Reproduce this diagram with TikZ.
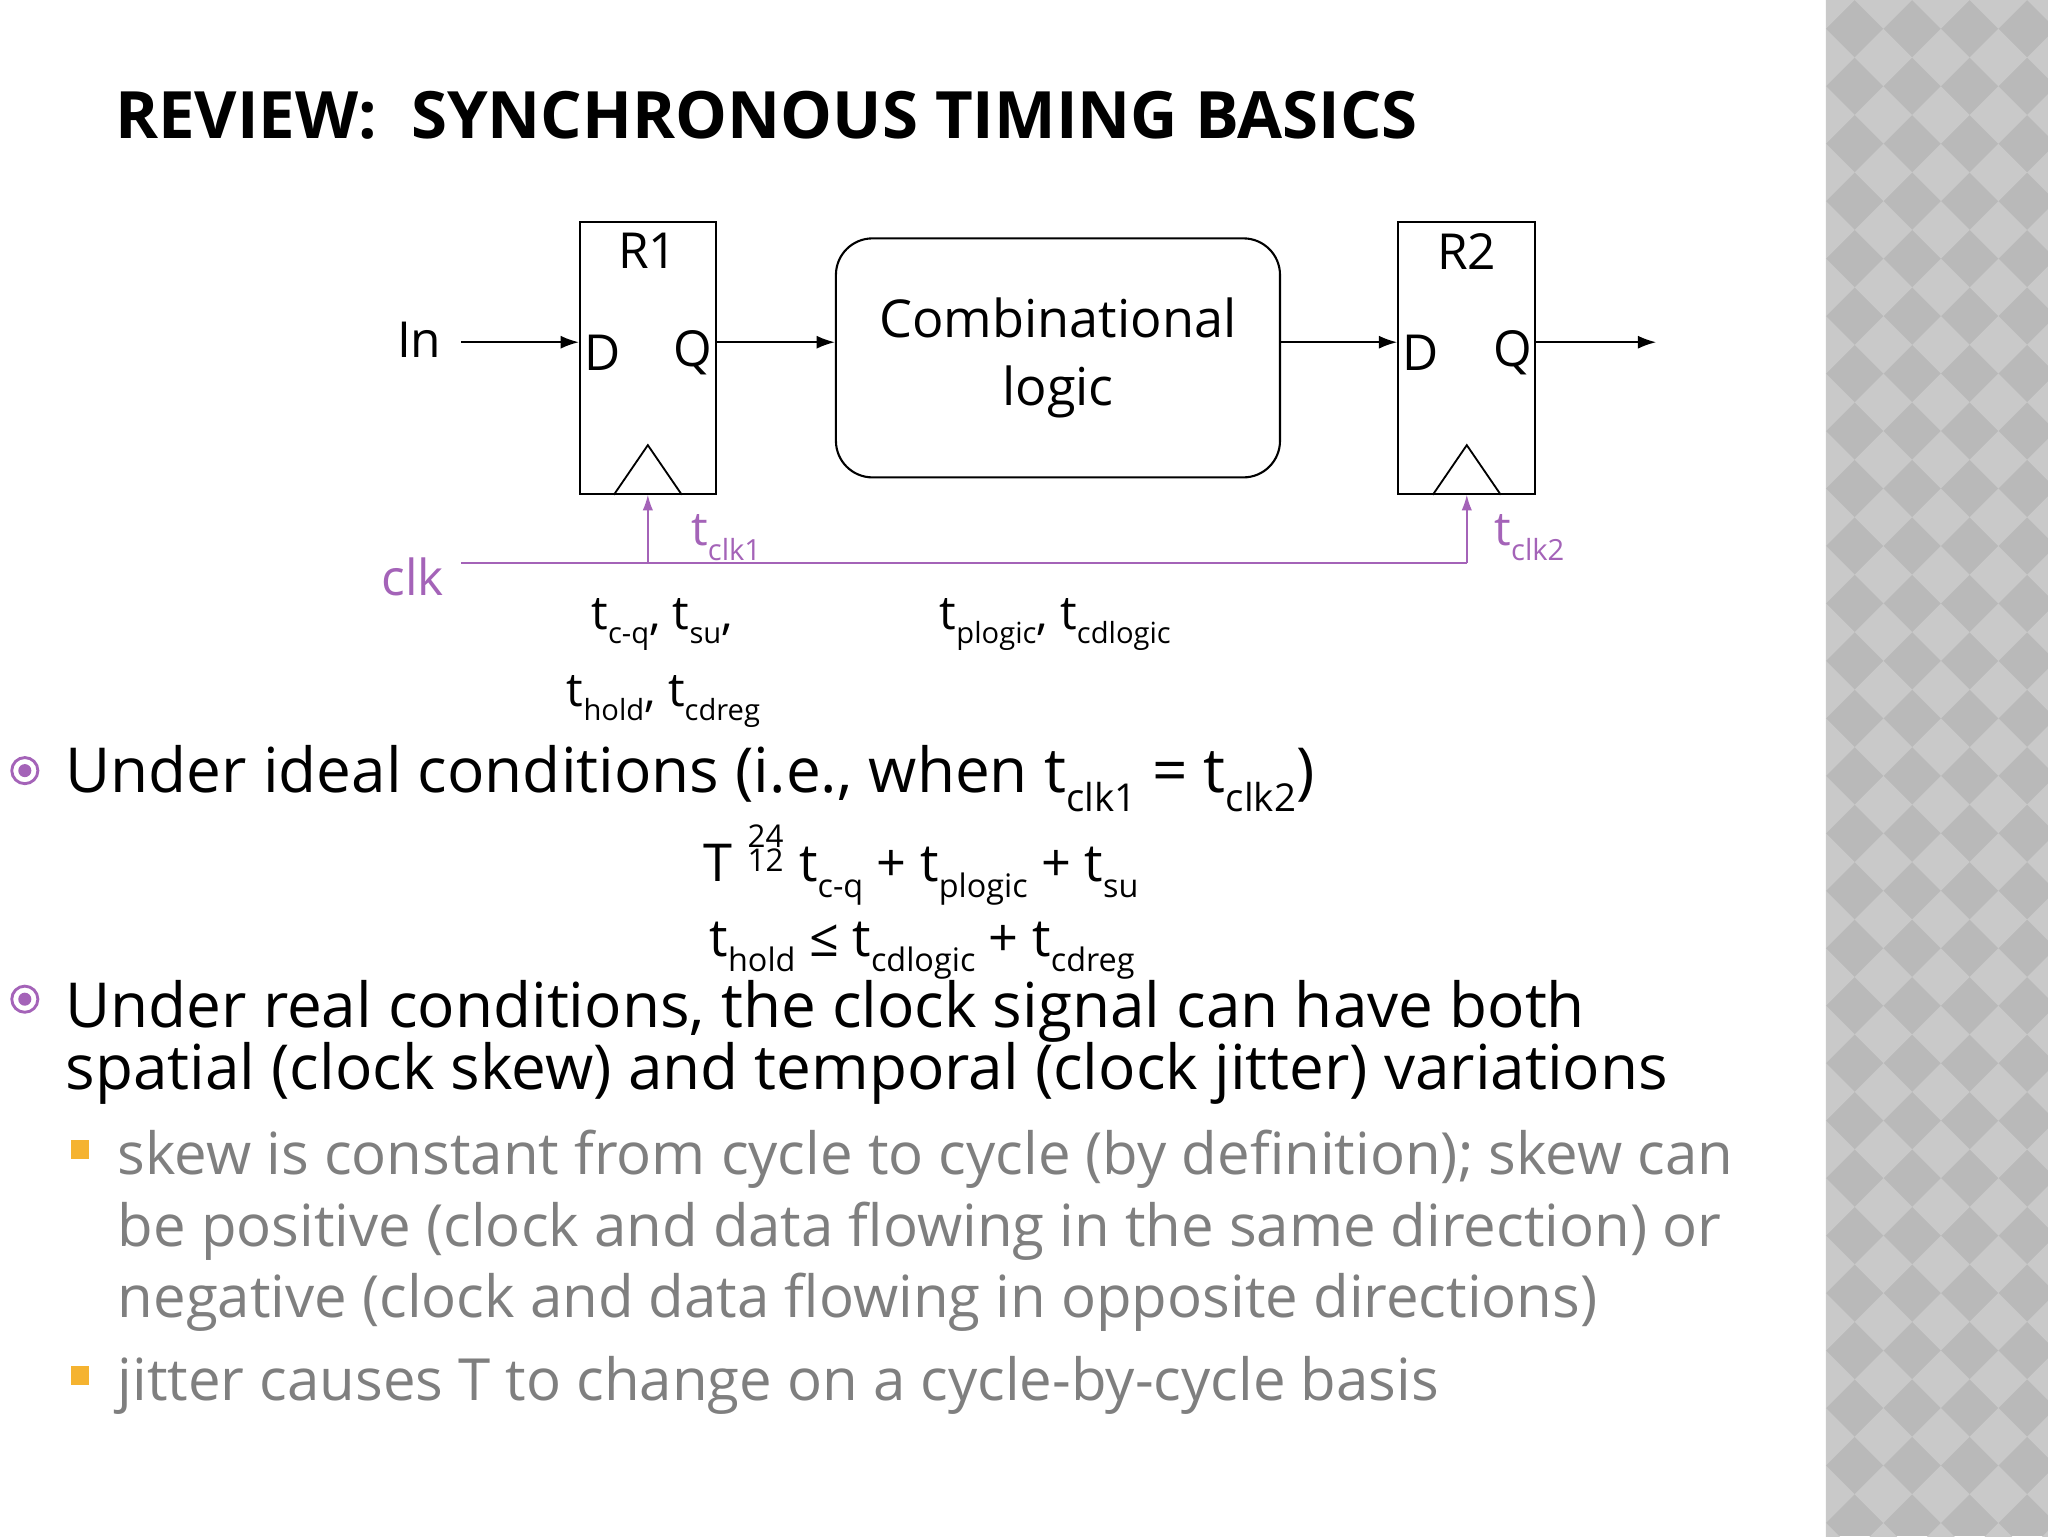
\documentclass[tikz,border=0pt]{standalone}
\usepackage{fontspec}
\setmainfont{Open Sans}
\usetikzlibrary{arrows.meta}
\definecolor{clkc}{HTML}{A463B8}
\definecolor{subg}{HTML}{7F7F7F}
\definecolor{orb}{HTML}{F5B330}
\newcommand\ts[2]{#1\raisebox{-0.3em}{\scalebox{0.62}{#2}}}
\begin{document}
\begin{tikzpicture}[x=1pt,y=-1pt,
  reg/.style={draw,line width=1.6pt},
  ar/.style={-{Latex[length=14pt,width=10pt]},line width=1.4pt},
  car/.style={-{Latex[length=12pt,width=8pt]},line width=1.2pt,draw=clkc},
  lab/.style={inner sep=0pt,font=\fontsize{38}{44}\selectfont},
  tl/.style={inner sep=0pt,font=\fontsize{36}{42}\selectfont,anchor=base},
  eq/.style={inner sep=0pt,font=\fontsize{40}{42}\selectfont,anchor=base},
  big/.style={inner sep=0pt,anchor=base west,font=\fontsize{47.5}{50}\selectfont},
  sm/.style={inner sep=0pt,anchor=base west,text=subg,font=\fontsize{44.5}{45}\selectfont}]
\useasboundingbox (0,0) rectangle (1568,1176);
\fill[white] (0,0) rectangle (1568,1176);
% right panel
\fill[gray!55] (1398,0) rectangle (1568,1176);
\begin{scope}
\clip (1398,0) rectangle (1568,1176);
\foreach \i in {0,...,4}{\foreach \j in {0,...,27}{
 \fill[gray!42] ({1398+\i*44},{\j*44-22}) -- ++(22,22) -- ++(-22,22) -- ++(-22,-22) -- cycle;}}
\end{scope}
% title
\node[inner sep=0pt,anchor=base west,font=\fontsize{50}{60}\selectfont\bfseries] (title) at (88,106) {REVIEW:\ \ SYNCHRONOUS TIMING BASICS};
% registers
\node[reg,minimum width=104,minimum height=208,inner sep=0pt] (r1) at (496,274) {};
\node[reg,minimum width=105,minimum height=208,inner sep=0pt] (r2) at (1123,274) {};
\node[reg,rounded corners=28pt,minimum width=340,minimum height=183,align=center,inner sep=0pt,font=\fontsize{40}{52}\selectfont] (cl) at (810,274) {Combinational\\logic};
\foreach \r/\n in {r1/R1,r2/R2}{
 \node[lab] at ([yshift=-23]\r.north) {\n};
 \node[lab] at ([xshift=18,yshift=4]\r.west) {D};
 \node[lab] at ([xshift=-18,yshift=4]\r.east) {Q};
 \draw[line width=1.4pt] ([xshift=-26]\r.south) -- ([yshift=38]\r.south) -- ([xshift=26]\r.south);
}
\node[lab] (in) at (321,260) {In};
\coordinate (ine) at (353,262);
\draw[ar] (ine) -- (ine -| r1.west);
\draw[ar] (r1.east |- ine) -- (cl.west |- ine);
\draw[ar] (cl.east |- ine) -- (r2.west |- ine);
\coordinate (out) at (1268,262);
\draw[ar] (r2.east |- ine) -- (out);
% clock
\node[lab,text=clkc] (clk) at (316,442) {clk};
\coordinate (cs) at (353,431);
\draw[line width=1.2pt,clkc] (cs) -- (cs -| r2.south);
\draw[car] (cs -| r1.south) -- (r1.south);
\draw[car] (cs -| r2.south) -- (r2.south);
\node[tl,text=clkc] (tc1) at (556,418) {\ts{t}{clk1}};
\node[tl,text=clkc] (tc2) at (1171,418) {\ts{t}{clk2}};
% timing labels
\node[tl] (l1) at (507,482) {\ts{t}{c-q}, \ts{t}{su},};
\node[tl] (l2) at (508,541) {\ts{t}{hold}, \ts{t}{cdreg}};
\node[tl] (l3) at (808,482) {\ts{t}{plogic}, \ts{t}{cdlogic}};
% bullets
\draw[clkc,line width=2.2pt] (19,590) circle (10);
\fill[clkc] (19,590) circle (5);
\node[big] (b1) at (50,607) {Under ideal conditions (i.e., when \ts{t}{clk1} = \ts{t}{clk2})};
\node[eq] (e1) at (705,675) {T\hspace{0.3em}\raisebox{0.2em}{\scalebox{0.6}{\shortstack{24\\[-2pt]12}}}\hspace{0.3em}\ts{t}{c-q} + \ts{t}{plogic} + \ts{t}{su}};
\node[eq] (e2) at (706,732) {\ts{t}{hold} ≤ \ts{t}{cdlogic} + \ts{t}{cdreg}};
\draw[clkc,line width=2.2pt] (19,765) circle (10);
\fill[clkc] (19,765) circle (5);
\node[big] (b2) at (50,787) {Under real conditions, the clock signal can have both};
\node[big] (b3) at (50,834) {spatial (clock skew) and temporal (clock jitter) variations};
\fill[orb] (54,873) rectangle (68,887);
\node[sm] (s1) at (90,899) {skew is constant from cycle to cycle (by definition); skew can};
\node[sm] (s2) at (90,954) {be positive (clock and data flowing in the same direction) or};
\node[sm] (s3) at (90,1009) {negative (clock and data flowing in opposite directions)};
\fill[orb] (54,1046) rectangle (68,1060);
\node[sm] (s4) at (90,1072) {jitter causes T to change on a cycle-by-cycle basis};
\end{tikzpicture}
\end{document}
